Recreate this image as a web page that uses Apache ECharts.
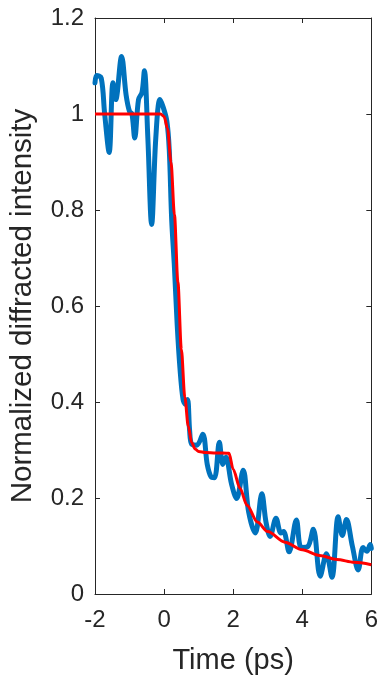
<!DOCTYPE html>
<html>
<head>
<meta charset="utf-8">
<script src="https://cdn.jsdelivr.net/npm/echarts@6/dist/echarts.min.js"></script>
<style>
html,body{margin:0;padding:0;background:#fff;}
#chart{width:381px;height:680px;}
</style>
</head>
<body>
<div id="chart"></div>
<script>
// Measured data (blue)
const measTime = [-2.0, -1.95, -1.82, -1.72, -1.59, -1.48, -1.40, -1.23, -1.10, -1.00, -0.93, -0.85, -0.74, -0.64, -0.57, -0.47, -0.36, -0.24, -0.12, -0.03, 0.08, 0.15, 0.22, 0.30, 0.38, 0.46, 0.55, 0.62, 0.68, 0.74, 0.80, 0.95, 1.12, 1.25, 1.36, 1.46, 1.60, 1.70, 1.79, 1.95, 2.10, 2.29, 2.45, 2.64, 2.83, 2.95, 3.07, 3.24, 3.38, 3.46, 3.62, 3.83, 3.97, 4.16, 4.32, 4.52, 4.70, 4.86, 5.04, 5.16, 5.28, 5.45, 5.62, 5.76, 5.87, 5.97, 6.0];
const measIntensity = [1.065, 1.08, 1.075, 1.0, 0.92, 1.065, 1.03, 1.12, 1.04, 1.005, 1.0, 0.95, 1.03, 1.045, 1.09, 0.95, 0.77, 0.95, 1.03, 1.015, 0.985, 0.925, 0.78, 0.68, 0.56, 0.47, 0.405, 0.395, 0.405, 0.34, 0.312, 0.31, 0.333, 0.27, 0.244, 0.242, 0.316, 0.27, 0.285, 0.23, 0.199, 0.258, 0.17, 0.127, 0.209, 0.15, 0.12, 0.158, 0.127, 0.13, 0.088, 0.154, 0.097, 0.099, 0.135, 0.037, 0.084, 0.035, 0.161, 0.122, 0.155, 0.1, 0.05, 0.097, 0.089, 0.103, 0.095];
// Fit (red)
const fitTime = [-2, -0.1, 0.0, 0.1, 0.2, 0.3, 0.4, 0.5, 0.6, 0.7, 0.8, 0.9, 1.0, 1.2, 1.5, 1.88, 2.0, 2.2, 2.4, 2.7, 3.0, 3.5, 4.0, 4.5, 5.0, 5.5, 6.0];
const fitIntensity = [1.0, 1.0, 0.995, 0.97, 0.9, 0.79, 0.65, 0.51, 0.41, 0.35, 0.315, 0.302, 0.297, 0.295, 0.294, 0.293, 0.26, 0.22, 0.185, 0.15, 0.13, 0.108, 0.092, 0.08, 0.072, 0.066, 0.061];
const xTicks = [-2, 0, 2, 4, 6];
const yTicks = [0, 0.2, 0.4, 0.6, 0.8, 1, 1.2];

const textColor = '#262626';
const font = 'Liberation Sans, Arial, sans-serif';

const chart = echarts.init(document.getElementById('chart'), null, {renderer: 'canvas'});
function axisCommon() {
  return {
    axisLine: {show: true, onZero: false, lineStyle: {color: textColor, width: 1}},
    axisTick: {show: true, inside: true, length: 5, lineStyle: {color: textColor, width: 1}},
    splitLine: {show: false}
  };
}
chart.setOption({
  animation: false,
  backgroundColor: '#fff',
  grid: {left: 92, right: 8, top: 18, bottom: 82, containLabel: false},
  xAxis: [
    Object.assign({
      type: 'value', min: xTicks[0], max: xTicks[xTicks.length-1], interval: 2,
      name: 'Time (ps)', nameLocation: 'middle', nameGap: 52,
      nameTextStyle: {color: textColor, fontSize: 29, fontFamily: font},
      axisLabel: {color: textColor, fontSize: 24, fontFamily: font, margin: 14}
    }, axisCommon()),
    Object.assign({
      type: 'value', position: 'top', min: -2, max: 6, interval: 2,
      axisLabel: {show: false}
    }, axisCommon())
  ],
  yAxis: [
    Object.assign({
      type: 'value', min: yTicks[0], max: yTicks[yTicks.length-1], interval: 0.2,
      name: 'Normalized diffracted intensity', nameLocation: 'middle', nameGap: 57,
      nameTextStyle: {color: textColor, fontSize: 29.5, fontFamily: font},
      axisLabel: {color: textColor, fontSize: 24, fontFamily: font, margin: 11,
        formatter: v => String(Math.round(v*10)/10)}
    }, axisCommon()),
    Object.assign({
      type: 'value', position: 'right', min: 0, max: 1.2, interval: 0.2,
      axisLabel: {show: false}
    }, axisCommon())
  ],
  series: [
    {
      type: 'line', name: 'data', xAxisIndex: 0, yAxisIndex: 0,
      data: measTime.map((t, i) => [t, measIntensity[i]]),
      showSymbol: false, smooth: 0.35,
      lineStyle: {color: '#0072BD', width: 5, cap: 'round', join: 'round'},
      z: 2
    },
    {
      type: 'line', name: 'fit', xAxisIndex: 0, yAxisIndex: 0,
      data: fitTime.map((t, i) => [t, fitIntensity[i]]),
      showSymbol: false, smooth: 0.3, smoothMonotone: 'x',
      lineStyle: {color: '#FF0000', width: 3},
      z: 3
    }
  ]
});
</script>
</body>
</html>
